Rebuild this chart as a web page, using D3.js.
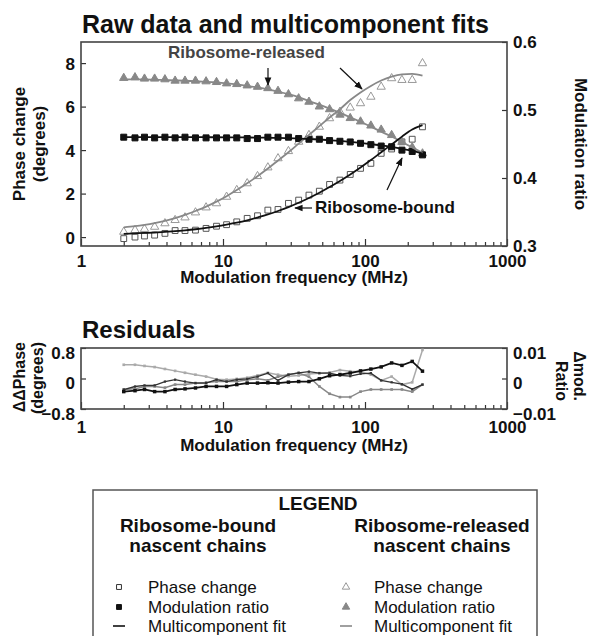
<!DOCTYPE html>
<html>
<head>
<meta charset="utf-8">
<script src="https://cdn.jsdelivr.net/npm/d3@7"></script>
<style>
  body { margin: 0; background: #fff; }
  text { font-family: "Liberation Sans", Arial, sans-serif; fill: #111; }
</style>
</head>
<body>
<script>
// modulation frequencies (MHz)
var freq = [2.0, 2.4, 2.8, 3.3, 3.9, 4.6, 5.4, 6.4, 7.6, 9.0, 10.6, 12.5, 14.8, 17.5, 20.7,
            24.4, 28.9, 34.1, 40.3, 47.7, 56.3, 66.6, 78.7, 93, 110, 130, 154, 182, 215, 254];

// ribosome-bound nascent chains
var boundPhase = [-0.07, 0.0, 0.05, 0.09, 0.17, 0.30, 0.30, 0.32, 0.40, 0.50, 0.57, 0.70, 0.86, 0.98, 1.24,
                  1.27, 1.55, 1.70, 1.93, 2.11, 2.42, 2.62, 2.88, 3.16, 3.39, 3.85, 4.05, 4.38, 4.50, 5.07];
var boundPhaseFit = [0.15, 0.17, 0.19, 0.21, 0.24, 0.27, 0.31, 0.36, 0.42, 0.49, 0.57, 0.66, 0.77, 0.90, 1.04,
                     1.20, 1.38, 1.58, 1.80, 2.04, 2.30, 2.58, 2.88, 3.20, 3.54, 3.90, 4.26, 4.62, 4.95, 5.15];
var boundMod = [0.460, 0.459, 0.460, 0.459, 0.460, 0.459, 0.460, 0.459, 0.459, 0.459, 0.459, 0.459, 0.458, 0.458, 0.460,
                0.460, 0.460, 0.458, 0.457, 0.457, 0.455, 0.454, 0.453, 0.451, 0.449, 0.447, 0.446, 0.441, 0.439, 0.434];
var boundModFit = [0.460, 0.460, 0.460, 0.460, 0.460, 0.460, 0.460, 0.460, 0.460, 0.4599, 0.4598, 0.4597, 0.4596, 0.4594, 0.4592,
                   0.4589, 0.4585, 0.458, 0.4574, 0.4566, 0.4556, 0.4545, 0.4532, 0.4517, 0.450, 0.448, 0.4457, 0.443, 0.4398, 0.436];

// ribosome-released nascent chains
var relPhase = [0.24, 0.32, 0.37, 0.47, 0.63, 0.78, 0.90, 1.13, 1.36, 1.55, 1.85, 2.16, 2.47, 2.80, 3.20,
                3.62, 3.95, 4.38, 4.69, 5.07, 5.46, 5.76, 5.95, 6.15, 6.45, 6.91, 7.30, 7.22, 7.22, 7.99];
var relPhaseFit = [0.45, 0.50, 0.56, 0.64, 0.74, 0.87, 1.02, 1.20, 1.40, 1.63, 1.88, 2.16, 2.47, 2.80, 3.15,
                   3.52, 3.90, 4.30, 4.70, 5.10, 5.50, 5.88, 6.30, 6.65, 6.95, 7.20, 7.38, 7.48, 7.50, 7.42];
var relMod = [0.547, 0.548, 0.546, 0.546, 0.545, 0.543, 0.543, 0.543, 0.542, 0.541, 0.539, 0.538, 0.536, 0.534, 0.532,
              0.528, 0.523, 0.517, 0.512, 0.505, 0.501, 0.493, 0.488, 0.483, 0.477, 0.471, 0.463, 0.453, 0.445, 0.436];
var relModFit = [0.545, 0.545, 0.545, 0.5445, 0.544, 0.5435, 0.543, 0.5423, 0.5415, 0.5405, 0.5392, 0.5376, 0.5356, 0.5332, 0.5304,
                 0.5271, 0.5233, 0.519, 0.5132, 0.5078, 0.502, 0.4958, 0.4893, 0.4825, 0.4755, 0.468, 0.461, 0.453, 0.445, 0.437];

// residuals (phase in degrees, modulation in ratio units)
var resBoundPhase = [-0.29, -0.21, -0.18, -0.18, -0.08, -0.03, -0.08, -0.12, -0.12, -0.03, -0.08, -0.03, -0.01, 0.05, 0.14,
                     -0.05, 0.10, 0.15, 0.18, 0.14, 0.14, 0.08, 0.06, 0.12, 0.14, -0.05, -0.10, -0.15, -0.28, -0.16];
var resBoundMod = [-0.0043, -0.004, -0.0036, -0.0043, -0.0043, -0.0036, -0.0034, -0.0031, -0.0026, -0.0026, -0.0026, -0.002, -0.0015, -0.0015, -0.0014,
                   -0.0015, -0.0012, -0.001, -0.001, -0.0001, 0.0009, 0.0013, 0.0018, 0.0025, 0.0031, 0.0038, 0.0051, 0.0043, 0.0056, 0.0024];
var resRelPhase = [0.36, 0.36, 0.33, 0.30, 0.25, 0.20, 0.15, 0.10, 0.05, -0.02, -0.03, -0.01, 0.02, 0.08, 0.15,
                   0.10, 0.06, 0.08, 0.12, 0.14, 0.16, 0.22, 0.19, 0.18, 0.10, -0.05, 0.05, -0.16, -0.10, 0.75];
var resRelMod = [-0.0036, -0.0034, -0.0026, -0.0026, -0.003, -0.002, -0.002, -0.0015, -0.0013, -0.001, -0.001, -0.001, -0.0004, -0.0001, -0.0006,
                 0.0006, 0.0013, 0.0018, 0.0006, -0.0026, -0.005, -0.0061, -0.0061, -0.0043, -0.0036, -0.0036, -0.0036, -0.0036, -0.0043, -0.002];

// tick labels
var xTickLabels = [1, 10, 100, 1000];
var phaseTicks = [0, 2, 4, 6, 8];
var modTicks = [0.3, 0.4, 0.5, 0.6];
var resPhaseTicks = [-0.8, 0, 0.8];
var resModTicks = [-0.01, 0, 0.01];

var left = 81, right = 507;
var main = {top: 42, bottom: 246};
var res = {top: 348, bottom: 409};

var svg = d3.select("body").append("svg")
    .attr("width", 590)
    .attr("height", 636);

// arrow head
svg.append("defs").append("marker")
    .attr("id", "head")
    .attr("viewBox", "0 0 10 10")
    .attr("refX", 9).attr("refY", 5)
    .attr("markerWidth", 7).attr("markerHeight", 7)
    .attr("orient", "auto")
  .append("path")
    .attr("d", "M0,1L10,5L0,9z")
    .attr("fill", "#111");

// scales
var x = d3.scaleLog().domain([1, 1000]).range([left, right]);
var yPhase = d3.scaleLinear().domain([-0.41, 8.97]).range([main.bottom, main.top]);
var yMod = d3.scaleLinear().domain([0.3, 0.6]).range([main.bottom, main.top]);
var yResPhase = d3.scaleLinear().domain([-0.8, 0.8]).range([res.bottom, res.top]);
var yResMod = d3.scaleLinear().domain([-0.01, 0.01]).range([res.bottom, res.top]);

function styleAxis(g) {
  g.select(".domain").remove();
  g.selectAll(".tick line").attr("stroke", "#333").attr("stroke-width", 1.2);
  g.selectAll("text")
      .attr("font-size", 17)
      .attr("font-weight", "bold")
      .style("font-family", "'Liberation Sans', Arial, sans-serif")
      .attr("fill", "#111");
}

// draws frame + all axes of one panel
function drawPanel(top, bottom, yL, yR, ticksL, ticksR, fmtL, fmtR, labelY, shiftY, titleGap) {
  var h = bottom - top;
  svg.append("g")
      .attr("transform", "translate(0," + bottom + ")")
      .call(d3.axisBottom(x)
        .tickValues(x.ticks())
        .tickSize(-4)
        .tickFormat(function(d) { return xTickLabels.indexOf(d) >= 0 ? d : ""; }))
      .call(styleAxis)
      .call(function(g) {
        g.selectAll(".tick line").attr("y2", function(d) { return xTickLabels.indexOf(d) >= 0 ? -7 : -4; });
        g.selectAll("text").attr("y", labelY);
      });

  svg.append("g")
      .attr("transform", "translate(" + left + ",0)")
      .call(d3.axisLeft(yL).tickValues(ticksL).tickSize(-5).tickPadding(6).tickFormat(fmtL))
      .call(styleAxis)
      .call(function(g) { g.selectAll("text").attr("dy", shiftY); });

  svg.append("g")
      .attr("transform", "translate(" + right + ",0)")
      .call(d3.axisRight(yR).tickValues(ticksR).tickSize(-5).tickPadding(6).tickFormat(fmtR))
      .call(styleAxis)
      .call(function(g) { g.selectAll("text").attr("dy", shiftY); });

  svg.append("rect")
      .attr("x", left).attr("y", top)
      .attr("width", right - left).attr("height", h)
      .attr("fill", "none")
      .attr("stroke", "#444")
      .attr("stroke-width", 1.6);

  svg.append("text")
      .attr("x", (left + right) / 2)
      .attr("y", bottom + labelY + titleGap)
      .attr("text-anchor", "middle")
      .attr("font-size", 17)
      .attr("font-weight", "bold")
      .text("Modulation frequency (MHz)");
}

drawPanel(main.top, main.bottom, yPhase, yMod, phaseTicks, modTicks,
          d3.format("d"), d3.format(".1f"), 9, "0.35em", 28);
drawPanel(res.top, res.bottom, yResPhase, yResMod, resPhaseTicks, resModTicks,
          function(d) { return d === 0 ? "0" : d3.format(".1f")(d); },
          function(d) { return d === 0 ? "0" : d3.format(".2f")(d); }, 12, "0.6em", 30);

// titles
svg.append("text").attr("x", 82).attr("y", 33)
    .attr("font-size", 25).attr("font-weight", "bold")
    .text("Raw data and multicomponent fits");
svg.append("text").attr("x", 82).attr("y", 338)
    .attr("font-size", 24).attr("font-weight", "bold")
    .text("Residuals");

// axis titles
function rotLabel(xp, yp, angle, anchor, size, txt) {
  svg.append("text")
      .attr("transform", "translate(" + xp + "," + yp + ") rotate(" + angle + ")")
      .attr("text-anchor", anchor)
      .attr("font-size", size)
      .attr("font-weight", "bold")
      .text(txt);
}
rotLabel(25, 144, -90, "middle", 17, "Phase change");
rotLabel(45, 144, -90, "middle", 17, "(degrees)");
rotLabel(575, 144, 90, "middle", 17, "Modulation ratio");
rotLabel(25, 342, -90, "end", 16, "\u0394\u0394Phase");
rotLabel(43, 342, -90, "end", 16, "(degrees)");
rotLabel(574, 401, 90, "end", 16, "\u0394mod.");
rotLabel(556, 401, 90, "end", 16, "Ratio");

// raw data
var idx = d3.range(freq.length);
var lineFor = function(vals, y) {
  return d3.line()
      .x(function(i) { return x(freq[i]); })
      .y(function(i) { return y(vals[i]); })
      .curve(d3.curveMonotoneX);
};
function drawFit(vals, y, color, w) {
  svg.append("path").datum(idx)
      .attr("d", lineFor(vals, y))
      .attr("fill", "none").attr("stroke", color).attr("stroke-width", w);
}
function drawPoints(vals, y, shape, size, fill, stroke, sw) {
  svg.append("g").selectAll("path")
      .data(idx)
    .enter().append("path")
      .attr("transform", function(i) { return "translate(" + x(freq[i]) + "," + y(vals[i]) + ")"; })
      .attr("d", d3.symbol().type(shape).size(size))
      .attr("fill", fill)
      .attr("stroke", stroke)
      .attr("stroke-width", sw);
}

drawPoints(relPhase, yPhase, d3.symbolTriangle, 30, "#fff", "#999", 1);
drawPoints(boundPhase, yPhase, d3.symbolSquare, 34, "#fff", "#555", 1);
drawPoints(relMod, yMod, d3.symbolTriangle, 30, "#888", "#888", 1);
drawPoints(boundMod, yMod, d3.symbolSquare, 36, "#111", "#111", 1);
drawFit(relPhaseFit, yPhase, "#888", 1.8);
drawFit(relModFit, yMod, "#888", 1.8);
drawFit(boundPhaseFit, yPhase, "#111", 1.8);
drawFit(boundModFit, yMod, "#111", 1.8);

// residuals
function drawRes(vals, y, color, w, msize) {
  svg.append("path").datum(idx)
      .attr("d", d3.line()
        .x(function(i) { return x(freq[i]); })
        .y(function(i) { return y(vals[i]); }))
      .attr("fill", "none").attr("stroke", color).attr("stroke-width", w);
  drawPoints(vals, y, d3.symbolSquare, msize, color, "none", 0);
}
drawRes(resRelPhase, yResPhase, "#aaa", 1.5, 7);
drawRes(resRelMod, yResMod, "#888", 1.5, 7);
drawRes(resBoundPhase, yResPhase, "#333", 1.3, 5);
drawRes(resBoundMod, yResMod, "#111", 1.8, 12);

// annotations
svg.append("text").attr("x", 168).attr("y", 58)
    .attr("font-size", 17).attr("font-weight", "bold")
    .style("fill", "#444")
    .text("Ribosome-released");
svg.append("text").attr("x", 315).attr("y", 213)
    .attr("font-size", 17).attr("font-weight", "bold")
    .text("Ribosome-bound");
var arrows = [[268, 68, 268, 85], [340, 68, 362, 89], [312, 208, 295, 208], [387, 190, 402, 158]];
svg.selectAll(".arrow")
    .data(arrows)
  .enter().append("line")
    .attr("x1", function(d) { return d[0]; }).attr("y1", function(d) { return d[1]; })
    .attr("x2", function(d) { return d[2]; }).attr("y2", function(d) { return d[3]; })
    .attr("stroke", "#111").attr("stroke-width", 1.2)
    .attr("marker-end", "url(#head)");

// legend
var lg = svg.append("g");
lg.append("rect")
    .attr("x", 93).attr("y", 490)
    .attr("width", 444).attr("height", 160)
    .attr("fill", "none").attr("stroke", "#555").attr("stroke-width", 1.5);
lg.append("text").attr("x", 318).attr("y", 510)
    .attr("text-anchor", "middle").attr("font-size", 19).attr("font-weight", "bold")
    .text("LEGEND");

var groups = [
  {title: ["Ribosome-bound", "nascent chains"], cx: 198, mx: 119, tx: 148,
   marks: [[d3.symbolSquare, "#fff", "#333"], [d3.symbolSquare, "#111", "#111"], ["line", "#111"]]},
  {title: ["Ribosome-released", "nascent chains"], cx: 442, mx: 346, tx: 374,
   marks: [[d3.symbolTriangle, "#fff", "#999"], [d3.symbolTriangle, "#888", "#888"], ["line", "#888"]]}
];
var itemLabels = ["Phase change", "Modulation ratio", "Multicomponent fit"];
var itemY = [593, 613, 632];

groups.forEach(function(gr) {
  gr.title.forEach(function(t, k) {
    lg.append("text").attr("x", gr.cx).attr("y", 532 + k * 20)
        .attr("text-anchor", "middle").attr("font-size", 19).attr("font-weight", "bold")
        .text(t);
  });
  itemLabels.forEach(function(t, k) {
    var m = gr.marks[k], cy = itemY[k] - 6;
    if (m[0] === "line") {
      lg.append("line").attr("x1", gr.mx - 6).attr("x2", gr.mx + 6)
          .attr("y1", cy).attr("y2", cy)
          .attr("stroke", m[1]).attr("stroke-width", 1.6);
    } else {
      lg.append("path")
          .attr("transform", "translate(" + gr.mx + "," + cy + ")")
          .attr("d", d3.symbol().type(m[0]).size(24))
          .attr("fill", m[1]).attr("stroke", m[2]).attr("stroke-width", 1);
    }
    lg.append("text").attr("x", gr.tx).attr("y", itemY[k])
        .attr("font-size", 17)
        .text(t);
  });
});
</script>
</body>
</html>
